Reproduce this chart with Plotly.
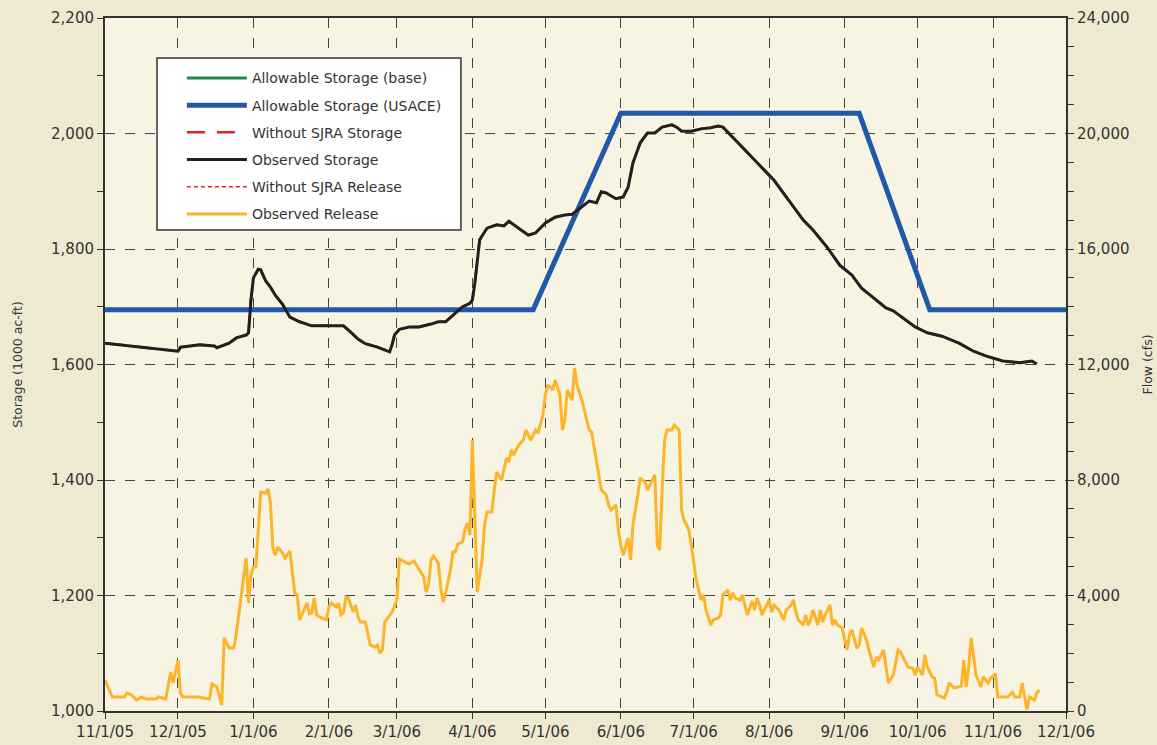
import pandas as pd
import plotly.graph_objects as go

START = pd.Timestamp("2005-11-01")

# Observed storage (1000 ac-ft): day offset from 11/1/05, value
storage_days = [0, 30, 31, 39, 45, 46, 51, 54, 58, 59, 60, 61, 63, 64, 66, 68, 70, 73, 76, 80,
                85, 90, 95, 98, 101, 104, 107, 112, 117, 118, 119, 121, 125, 129, 134, 137, 140, 142, 144, 147,
                150, 151, 152, 154, 157, 161, 164, 166, 170, 174, 177, 181, 185, 189, 192, 196, 199, 202, 204, 206,
                210, 213, 215, 217, 220, 223, 226, 229, 233, 235, 237, 241, 245, 249, 252, 254, 258, 263, 267, 275,
                283, 287, 291, 297, 302, 307, 311, 316, 321, 324, 328, 333, 338, 344, 351, 357, 362, 369, 376, 381, 383]
storage_vals = [1637, 1623, 1630, 1634, 1632, 1629, 1637, 1646, 1651, 1655, 1712, 1750, 1765, 1764, 1745, 1734, 1720, 1704, 1682, 1674,
                1667, 1667, 1668, 1667, 1656, 1644, 1636, 1630, 1622, 1634, 1651, 1661, 1665, 1665, 1670, 1674, 1674, 1682, 1689, 1700,
                1706, 1712, 1740, 1816, 1836, 1842, 1840, 1848, 1836, 1824, 1828, 1845, 1855, 1859, 1860, 1873, 1883, 1880, 1899, 1897,
                1887, 1890, 1907, 1949, 1984, 2001, 2001, 2011, 2015, 2011, 2004, 2004, 2008, 2010, 2013, 2011, 1994, 1971, 1954, 1919,
                1873, 1850, 1833, 1802, 1772, 1755, 1732, 1715, 1698, 1693, 1680, 1665, 1655, 1649, 1637, 1623, 1615, 1606, 1603, 1606, 1601]

# Observed release (cfs)
release_days = [0, 3, 8, 9, 11, 13, 15, 17, 21, 22, 25, 27, 28, 30, 31, 32, 38, 43, 44, 46,
                48, 49, 51, 53, 54, 56, 58, 59, 60, 61, 62, 64, 66, 67, 68, 69, 70, 71, 73, 74,
                76, 78, 79, 80, 82, 83, 84, 85, 86, 87, 89, 91, 92, 93, 95, 96, 97, 98, 99, 100,
                102, 103, 104, 105, 107, 109, 111, 112, 113, 114, 115, 117, 118, 120, 121, 124, 125, 127, 128, 130,
                131, 132, 133, 134, 135, 137, 138, 139, 140, 142, 143, 144, 145, 147, 148, 149, 150, 151, 153, 155,
                156, 157, 159, 160, 161, 163, 164, 165, 166, 167, 168, 170, 172, 173, 175, 177, 178, 179, 180, 181,
                182, 184, 185, 187, 188, 189, 190, 192, 193, 194, 196, 197, 199, 200, 202, 204, 206, 207, 208, 210,
                211, 212, 213, 215, 216, 217, 219, 220, 222, 223, 224, 226, 227, 228, 229, 230, 231, 233, 234, 236,
                237, 238, 240, 241, 243, 245, 246, 247, 249, 250, 252, 253, 254, 256, 257, 258, 259, 261, 262, 263,
                264, 266, 267, 268, 269, 270, 272, 273, 274, 275, 277, 278, 279, 280, 282, 283, 284, 285, 287, 288,
                289, 290, 291, 293, 294, 295, 296, 298, 299, 300, 301, 303, 304, 305, 306, 307, 309, 310, 311, 313,
                314, 316, 317, 318, 320, 322, 324, 326, 327, 329, 330, 332, 333, 334, 336, 337, 338, 340, 341, 342,
                345, 346, 347, 349, 352, 353, 354, 355, 356, 358, 360, 361, 363, 364, 366, 367, 371, 373, 374, 376,
                377, 378, 379, 380, 382, 383, 384]
release_vals = [1074, 485, 485, 623, 554, 381, 485, 415, 415, 485, 415, 1350, 970, 1766, 623, 485, 485, 415, 935, 831,
                208, 2528, 2182, 2182, 2701, 4017, 5298, 3740, 4710, 4987, 4987, 7584, 7549, 7688, 7203, 5645, 5402, 5679, 5472, 5298,
                5541, 4086, 4017, 3151, 3567, 3740, 3359, 3394, 3913, 3324, 3221, 3151, 3602, 3740, 3602, 3740, 3324, 3394, 3948, 3913,
                3428, 3671, 3255, 3082, 3082, 2286, 2216, 2286, 2009, 2112, 3082, 3324, 3428, 3844, 5264, 5125, 5091, 5194, 5056, 4779,
                4640, 4121, 4363, 5229, 5368, 5125, 4259, 3775, 4086, 4883, 5506, 5506, 5783, 5852, 6303, 6510, 6095, 9385, 4121, 5229,
                6441, 6891, 6891, 7653, 8277, 8000, 8346, 8761, 8623, 9039, 8865, 9212, 9385, 9731, 9385, 9731, 9627, 9904, 10250, 10943,
                11289, 11116, 11462, 10943, 9731, 10077, 11116, 10770, 11878, 11289, 10770, 10424, 9731, 9662, 8692, 7653, 7480, 7134, 6961, 7134,
                6268, 5749, 5402, 5991, 5229, 6441, 7480, 8069, 7930, 7653, 7826, 8173, 5749, 5575, 7653, 9385, 9731, 9731, 9904, 9731,
                6961, 6614, 6268, 5749, 4537, 3844, 4017, 3498, 2978, 3151, 3221, 3324, 4017, 4190, 3844, 4086, 3913, 3844, 4017, 3671,
                3324, 3809, 3498, 3913, 3671, 3324, 3671, 3844, 3428, 3671, 3498, 3324, 3151, 3498, 3671, 3844, 3428, 3151, 2978, 3324,
                2978, 3151, 3498, 2978, 3498, 3082, 3324, 3671, 2978, 3151, 2978, 2874, 2459, 2112, 2632, 2805, 2182, 2286, 2874, 2459,
                2112, 1524, 1870, 1766, 2112, 970, 1247, 2112, 2043, 1697, 1524, 1489, 1247, 1524, 1247, 1939, 1524, 1177, 1143, 554,
                450, 658, 970, 796, 866, 1766, 831, 1524, 2528, 1247, 831, 1177, 970, 1143, 1281, 485, 485, 658, 485, 485,
                970, 485, 50, 485, 381, 623, 727]

# Allowable storage (USACE) rule curve
allow_dates = ["2005-11-01", "2006-04-26", "2006-06-01", "2006-09-07", "2006-10-06", "2006-12-01"]
allow_usace = [1695, 1695, 2035, 2035, 1695, 1695]
allow_base = [1695, 1695, 2035, 2035, 1695, 1695]

tick_dates = ["2005-11-01", "2005-12-01", "2006-01-01", "2006-02-01", "2006-03-01", "2006-04-01", "2006-05-01",
              "2006-06-01", "2006-07-01", "2006-08-01", "2006-09-01", "2006-10-01", "2006-11-01", "2006-12-01"]
tick_labels = ["11/1/05", "12/1/05", "1/1/06", "2/1/06", "3/1/06", "4/1/06", "5/1/06",
               "6/1/06", "7/1/06", "8/1/06", "9/1/06", "10/1/06", "11/1/06", "12/1/06"]

storage_x = START + pd.to_timedelta(storage_days, unit="D")
release_x = START + pd.to_timedelta(release_days, unit="D")

FONT = "DejaVu Sans"
TXT = "#333333"

fig = go.Figure()
fig.add_trace(go.Scatter(x=allow_dates, y=allow_base, name="Allowable Storage (base)", mode="lines",
                         line=dict(color="#1B8A4C", width=3), legendgroup="a"))
fig.add_trace(go.Scatter(x=allow_dates, y=allow_usace, name="Allowable Storage (USACE)", mode="lines",
                         line=dict(color="#2159A8", width=5), legendgroup="b"))
fig.add_trace(go.Scatter(x=storage_x, y=storage_vals, name="Without SJRA Storage", mode="lines",
                         line=dict(color="#EE1D25", width=2.5, dash="18px,12px"), legendgroup="c"))
fig.add_trace(go.Scatter(x=storage_x, y=storage_vals, name="Observed Storage", mode="lines",
                         line=dict(color="#231F20", width=3), legendgroup="d"))
fig.add_trace(go.Scatter(x=release_x, y=release_vals, name="Without SJRA Release", mode="lines", yaxis="y2",
                         line=dict(color="#EE1D25", width=1.3, dash="4px,3px"), legendgroup="e"))
fig.add_trace(go.Scatter(x=release_x, y=release_vals, name="Observed Release", mode="lines", yaxis="y2",
                         line=dict(color="#FDB42A", width=3), legendgroup="f"))

# legend box (white frame)
fig.add_shape(type="rect", xref="paper", yref="paper", x0=0.0541, x1=0.3704, y0=0.6941, y1=0.9423,
              line=dict(color="#333333", width=1.5), fillcolor="white", layer="above")

fig.update_layout(
    width=1157, height=745,
    paper_bgcolor="#EFE9D1", plot_bgcolor="#F7F4E3",
    margin=dict(l=105, r=91, t=18, b=34),
    font=dict(family=FONT, size=15, color=TXT),
    showlegend=True,
    legend=dict(x=0.080, y=0.936, xanchor="left", yanchor="top", bgcolor="rgba(0,0,0,0)",
                borderwidth=0, font=dict(family=FONT, size=14, color=TXT), tracegroupgap=6,
                traceorder="grouped", itemwidth=60),
    xaxis=dict(type="date", range=["2005-11-01", "2006-12-01"], tickvals=tick_dates, ticktext=tick_labels,
               showgrid=True, gridcolor="#444444", griddash="10px,10px", gridwidth=1,
               showline=True, linecolor="#333333", linewidth=2, mirror=True, automargin=False,
               ticks="outside", ticklen=6, tickcolor="#333333", tickfont=dict(size=15, color=TXT),
               zeroline=False),
    yaxis=dict(range=[1000, 2200], dtick=200, tickformat=",", showgrid=True, gridcolor="#444444",
               griddash="10px,10px", gridwidth=1, showline=True, linecolor="#333333", linewidth=2,
               ticks="outside", ticklen=6, tickcolor="#333333", zeroline=False, automargin=False,
               tickfont=dict(size=15, color=TXT),
               minor=dict(dtick=100, ticks="outside", ticklen=6, tickcolor="#333333", showgrid=False),
               title=dict(text="Storage (1000 ac-ft)", font=dict(size=12.5, color=TXT), standoff=26)),
    yaxis2=dict(range=[0, 24000], dtick=4000, tickformat=",", overlaying="y", side="right", showgrid=False,
                showline=True, linecolor="#333333", linewidth=2, ticks="outside", ticklen=6, tickcolor="#333333",
                zeroline=False, automargin=False, tickfont=dict(size=15, color=TXT),
                minor=dict(dtick=1000, ticks="outside", ticklen=6, tickcolor="#333333", showgrid=False),
                title=dict(text="Flow (cfs)", font=dict(size=12.5, color=TXT), standoff=15)),
)

fig.write_html("out.html", config={"displayModeBar": False},
               post_script="document.body.style.margin='0';document.body.style.padding='0';")
